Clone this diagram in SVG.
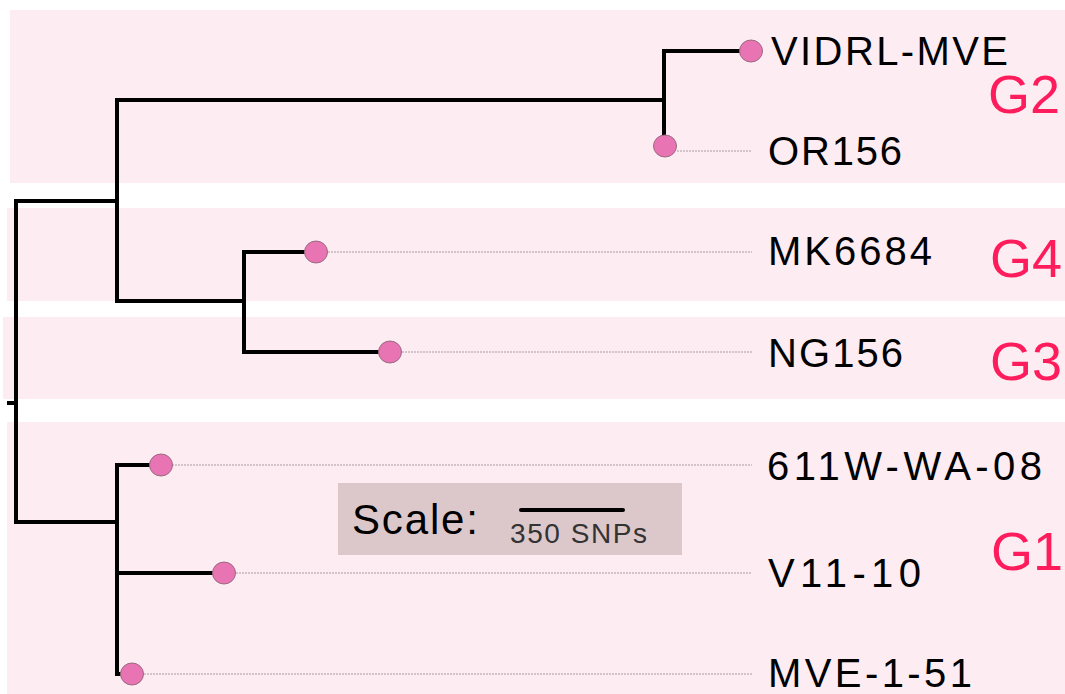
<svg xmlns="http://www.w3.org/2000/svg" width="1065" height="694" viewBox="0 0 1065 694">
<style>
.band{fill:#fdecf1}
.br{fill:none;stroke:#000;stroke-width:4;stroke-linejoin:miter;stroke-linecap:square}
.dot{fill:#e874b3;stroke:#9a6a80;stroke-width:1}
.lead{stroke:#a89ca0;stroke-width:1;stroke-dasharray:2,1}
.lbl{font-family:"Liberation Sans",Arial,sans-serif;font-size:40px;fill:#000}
.grp{font-family:"Liberation Sans",Arial,sans-serif;font-size:54px;fill:#ff1c5c}
</style>
<rect width="1065" height="694" fill="#fff"/>
<g id="bands">
<rect class="band" x="10" y="10" width="1055" height="173"/>
<rect class="band" x="7" y="208" width="1058" height="93"/>
<rect class="band" x="3" y="317" width="1062" height="82"/>
<rect class="band" x="7" y="422" width="1058" height="272"/>
</g>
<g id="connectors">
<path class="br" d="M9,403 H16 M16,201 V522 M16,201 H117 M117,100 V301 M117,100 H664 M664,51 V146 M664,51 H745 M117,301 H244 M244,252 V352 M244,252 H310 M244,352 H384 M16,522 H117 M117,465 V674 M117,465 H155 M117,573 H218 M117,674 H126"/>
<line class="lead" x1="677" y1="151" x2="752" y2="151"/>
<line class="lead" x1="328" y1="252" x2="752" y2="252"/>
<line class="lead" x1="402" y1="352" x2="752" y2="352"/>
<line class="lead" x1="172" y1="465" x2="752" y2="465"/>
<line class="lead" x1="236" y1="573" x2="752" y2="573"/>
<line class="lead" x1="144" y1="674" x2="752" y2="674"/>
</g>
<g id="n-VIDRL-MVE"><ellipse class="dot" cx="751" cy="51" rx="11.5" ry="11"/><text class="lbl" x="771" y="65" textLength="237" lengthAdjust="spacing">VIDRL-MVE</text></g>
<g id="n-OR156"><ellipse class="dot" cx="665" cy="146" rx="11.5" ry="11"/><text class="lbl" x="768" y="165" textLength="134" lengthAdjust="spacing">OR156</text></g>
<g id="n-MK6684"><ellipse class="dot" cx="316" cy="252" rx="11.5" ry="11"/><text class="lbl" x="768" y="265" textLength="164" lengthAdjust="spacing">MK6684</text></g>
<g id="n-NG156"><ellipse class="dot" cx="390" cy="352" rx="11.5" ry="11"/><text class="lbl" x="768" y="367" textLength="135" lengthAdjust="spacing">NG156</text></g>
<g id="n-611W-WA-08"><ellipse class="dot" cx="161" cy="465" rx="11.5" ry="11"/><text class="lbl" x="767" y="480" textLength="275" lengthAdjust="spacing">611W-WA-08</text></g>
<g id="n-V11-10"><ellipse class="dot" cx="224" cy="573" rx="11.5" ry="11"/><text class="lbl" x="768" y="587" textLength="153" lengthAdjust="spacing">V11-10</text></g>
<g id="n-MVE-1-51"><ellipse class="dot" cx="132" cy="674" rx="11.5" ry="11"/><text class="lbl" x="768" y="687" textLength="204" lengthAdjust="spacing">MVE-1-51</text></g>
<g id="groups">
<text class="grp" x="988" y="113">G2</text>
<text class="grp" x="990" y="277">G4</text>
<text class="grp" x="990" y="380">G3</text>
<text class="grp" x="991" y="570">G1</text>
</g>
<g id="scale">
<rect x="338" y="483" width="344" height="72" fill="#dcc8cb"/>
<text x="352" y="534" font-family="'Liberation Sans',Arial,sans-serif" font-size="42" fill="#000" textLength="126" lengthAdjust="spacing">Scale:</text>
<line x1="521" y1="510" x2="623" y2="510" stroke="#000" stroke-width="4" stroke-linecap="round"/>
<text x="510" y="543" font-family="'Liberation Sans',Arial,sans-serif" font-size="28" fill="#333" textLength="137" lengthAdjust="spacing">350 SNPs</text>
</g>
</svg>
